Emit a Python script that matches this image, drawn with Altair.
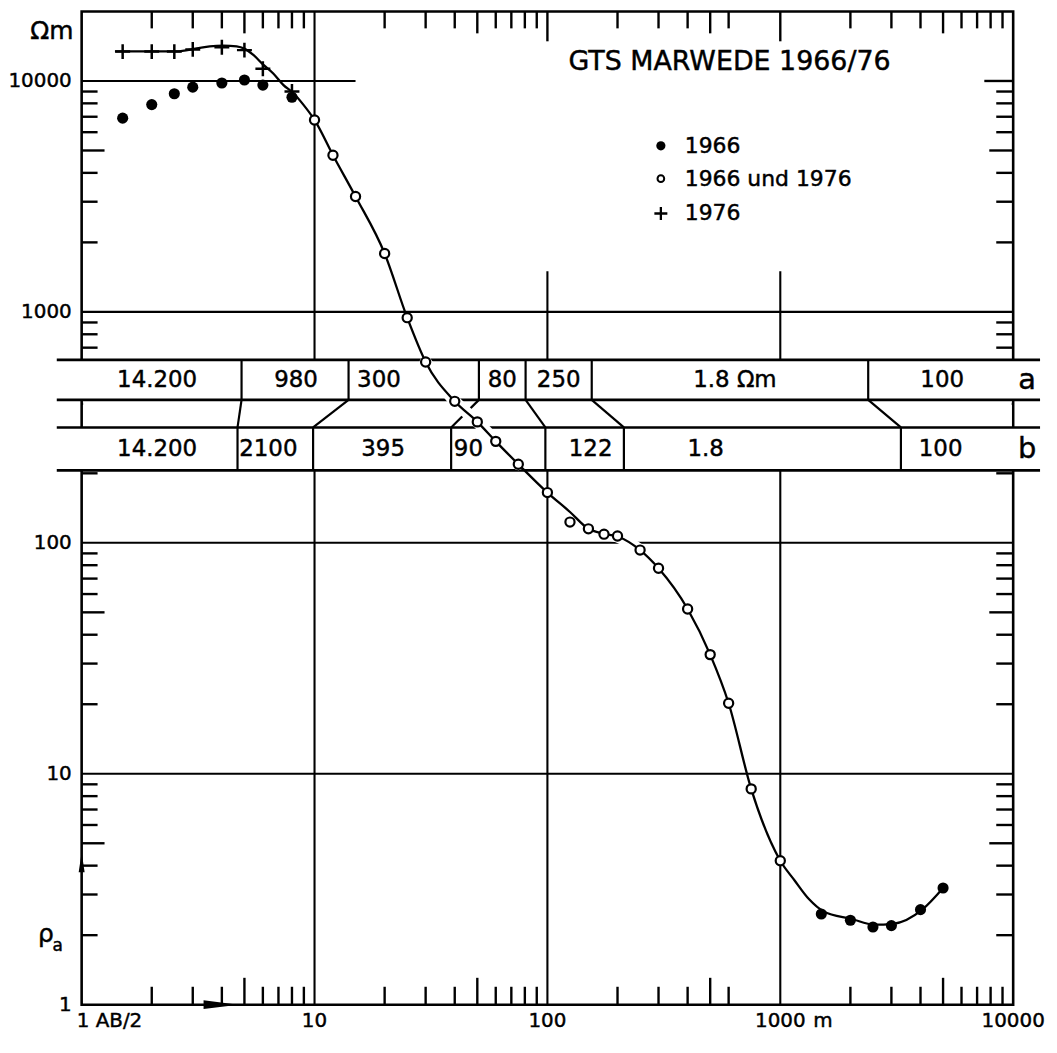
import math
import altair as alt
import pandas as pd

# ---------------- values ----------------
ab2_1966 = [1.5, 2, 2.5, 3, 4, 5, 6, 8, 1500, 2000, 2500, 3000, 4000, 5000]
rho_1966 = [6900, 7900, 8800, 9400, 9800, 10100, 9600, 8500, 2.47, 2.32, 2.17, 2.2, 2.58, 3.2]

ab2_1976 = [1.5, 2, 2.5, 3, 4, 5, 6, 8]
rho_1976 = [13400, 13400, 13400, 13700, 14000, 13600, 11300, 9000]

ab2_both = [10, 12, 15, 20, 25, 30, 40, 50, 60, 75, 100, 125, 150, 175, 200,
            250, 300, 400, 500, 600, 750, 1000]
rho_both = [6780, 4770, 3160, 1790, 944, 607, 410, 334, 275, 219, 165, 123, 115,
            109, 107, 93, 77.6, 51.7, 32.8, 20.2, 8.6, 4.2]

curve_ab2 = [1.39, 2.56, 3.12, 3.55, 4.06, 4.63, 5.02, 5.46, 6.02, 6.65, 7.34, 8.1,
             8.95, 10, 12, 15, 20, 25, 30, 40, 50, 60, 75, 100, 125, 150, 175, 200,
             250, 300, 400, 500, 600, 750, 1000, 1150, 1330, 1530, 2030, 2530, 3050,
             4070, 5000]
curve_rho = [13440, 13440, 13840, 14120, 14220, 14120, 13770, 12970, 11770, 10780,
             9620, 8870, 7900, 6780, 4770, 3160, 1790, 944, 607, 410, 334, 275, 219,
             165, 136, 115, 109.5, 106.5, 93, 77.6, 51.7, 32.8, 20.2, 8.6, 4.2, 3.46,
             2.86, 2.54, 2.35, 2.22, 2.24, 2.58, 3.2]

# layer models a and b: boundaries (AB/2 scale) and resistivities
model_a_bounds = [4.86, 14.0, 50.8, 80.6, 155, 2385]
model_a_rho = ["14.200", "980", "300", "80", "250", "1.8 \u03a9m", "100"]
model_b_bounds = [4.67, 9.86, 38.6, 98, 213, 3296]
model_b_rho = ["14.200", "2100", "395", "90", "122", "1.8", "100"]

x_labels = [10, 100, 1000, 10000]
y_labels = [1, 10, 100, 1000, 10000]

legend_labels = ["1966", "1966 und 1976", "1976"]
title_text = "GTS  MARWEDE  1966/76"

# ---------------- layout / style ----------------
W, H = 936, 998
FONT = "DejaVu Sans"
TXT_STROKE = 0.45
xs = alt.Scale(type="log", domain=[1, 10000], nice=False)
ys = alt.Scale(type="log", domain=[1, 20000], nice=False)
PX_PER_DEC = W / 4.0

BAND_A = (416, 620)   # band a extent on rho scale
BAND_B = (206, 316)
LEFT_EDGE, RIGHT_EDGE = -25, 963   # band extent in pixels (outside frame)


def XF(f):
    return alt.X(f, type="quantitative", scale=xs, axis=None)


def YF(f):
    return alt.Y(f, type="quantitative", scale=ys, axis=None)


layers = []

# --- grid lines
grid = pd.DataFrame({
    "x": [1, 1, 1, 1, 10, 100, 1000],
    "x2": [15, 10000, 10000, 10000, 10, 100, 1000],
    "y": [10000, 1000, 100, 10, 1, 1, 1],
    "y2": [10000, 1000, 100, 10, 20000, 1500, 1500],
})
layers.append(alt.Chart(grid).mark_rule(color="black", strokeWidth=2.1).encode(
    x=XF("x"), x2="x2", y=YF("y"), y2="y2"))

# --- inward ticks
mant = [2, 3, 4, 6, 7, 8, 9]
x_norm = [m * 10 ** k for k in range(4) for m in mant if not (k == 2 and m >= 7)]
x_five = [5 * 10 ** k for k in range(4)]
y_norm = [m * 10 ** k for k in range(4) for m in mant]
y_five = [5 * 10 ** k for k in range(4)]


def vticks(vals, y0, y1):
    return alt.Chart(pd.DataFrame({"v": vals})).mark_rule(
        color="black", strokeWidth=2.4).encode(
        x=XF("v"), y=alt.value(y0), y2=alt.value(y1))


def hticks(vals, x0, x1):
    return alt.Chart(pd.DataFrame({"v": vals})).mark_rule(
        color="black", strokeWidth=2.4).encode(
        y=YF("v"), x=alt.value(x0), x2=alt.value(x1))


layers += [
    vticks(x_norm, 0, 17), vticks(x_five, 0, 22), vticks([100, 1000], 0, 30),
    vticks(x_norm, H - 18, H), vticks(x_five, H - 27, H),
    hticks(y_norm, 0, 16), hticks(y_five, 0, 23),
    hticks(y_norm, W - 17, W), hticks(y_five, W - 24, W), hticks([10000], W - 29, W),
]

# --- model bands (white boxes)
bands = pd.DataFrame({"lo": [BAND_A[0], BAND_B[0]], "hi": [BAND_A[1], BAND_B[1]]})
layers.append(alt.Chart(bands).mark_rect(fill="white").encode(
    x=alt.value(LEFT_EDGE), x2=alt.value(RIGHT_EDGE), y=YF("hi"), y2="lo"))
gap = pd.DataFrame({"lo": [BAND_B[1]], "hi": [BAND_A[0]]})
layers.append(alt.Chart(gap).mark_rect(fill="white").encode(
    x=alt.value(1.5), x2=alt.value(W - 1.5), y=YF("hi"), y2="lo"))

band_lines = pd.DataFrame({"y": [BAND_A[0], BAND_A[1], BAND_B[0], BAND_B[1]]})
layers.append(alt.Chart(band_lines).mark_rule(color="black", strokeWidth=2.6).encode(
    y=YF("y"), x=alt.value(LEFT_EDGE), x2=alt.value(RIGHT_EDGE)))

dividers = pd.DataFrame({
    "x": model_a_bounds + model_b_bounds,
    "lo": [BAND_A[0]] * len(model_a_bounds) + [BAND_B[0]] * len(model_b_bounds),
    "hi": [BAND_A[1]] * len(model_a_bounds) + [BAND_B[1]] * len(model_b_bounds),
})
layers.append(alt.Chart(dividers).mark_rule(color="black", strokeWidth=2.2).encode(
    x=XF("x"), y=YF("lo"), y2="hi"))

connectors = pd.DataFrame({"xa": model_a_bounds, "xb": model_b_bounds,
                           "ya": [BAND_A[0]] * 6, "yb": [BAND_B[1]] * 6})
layers.append(alt.Chart(connectors).mark_rule(color="black", strokeWidth=2.2).encode(
    x=XF("xa"), x2="xb", y=YF("ya"), y2="yb"))

# --- curve with white halo where it cuts the bands / grid
curve_df = pd.DataFrame({"x": curve_ab2, "y": curve_rho})
halo_df = pd.concat([
    curve_df[(curve_df.x >= 30) & (curve_df.x <= 75)].assign(seg="a"),
    curve_df[(curve_df.x >= 150) & (curve_df.x <= 250)].assign(seg="b"),
])
layers.append(alt.Chart(halo_df).mark_line(
    color="white", strokeWidth=12, interpolate="monotone", strokeCap="round").encode(
    x=XF("x"), y=YF("y"), detail="seg:N"))
layers.append(alt.Chart(curve_df).mark_line(
    color="black", strokeWidth=2.3, interpolate="monotone").encode(
    x=XF("x"), y=YF("y")))

# --- measured points
d66 = pd.DataFrame({"x": ab2_1966, "y": rho_1966})
d76 = pd.DataFrame({"x": ab2_1976, "y": rho_1976})
dboth = pd.DataFrame({"x": ab2_both, "y": rho_both})
PLUS = "M-1,0L1,0M0,-1L0,1"
layers.append(alt.Chart(d76).mark_point(shape=PLUS, filled=False, color="black",
                                        strokeWidth=2.5, size=225, opacity=1).encode(
    x=XF("x"), y=YF("y")))
layers.append(alt.Chart(d66).mark_circle(color="black", size=125, opacity=1).encode(
    x=XF("x"), y=YF("y")))
layers.append(alt.Chart(dboth).mark_point(shape="circle", filled=True, fill="white",
                                          stroke="black", strokeWidth=2.2, size=85,
                                          opacity=1).encode(x=XF("x"), y=YF("y")))


# --- band labels
def cell_labels(bounds, labels, nudges, yval):
    edges_px = [LEFT_EDGE] + [PX_PER_DEC * math.log10(b) for b in bounds] + [RIGHT_EDGE]
    xs_ = []
    for i in range(len(labels)):
        mid = (edges_px[i] + edges_px[i + 1]) / 2 + nudges[i]
        xs_.append(10 ** (mid / PX_PER_DEC))
    return pd.DataFrame({"x": xs_, "y": [yval] * len(labels), "t": labels})


lab_a = cell_labels(model_a_bounds, model_a_rho, [8, 1, -35, 0, 0, 5, -12], 508)
lab_b = cell_labels(model_b_bounds, model_b_rho, [10, -7, 1, -30, 6, -57, -30], 255)
layers.append(alt.Chart(pd.concat([lab_a, lab_b])).mark_text(
    font=FONT, fontSize=23, color="black", align="center", baseline="middle",
    stroke="black", strokeWidth=TXT_STROKE).encode(
    x=XF("x"), y=YF("y"), text="t:N"))
layers.append(alt.Chart(pd.DataFrame({"y": [508, 255], "t": ["a", "b"]})).mark_text(
    font=FONT, fontSize=29, color="black", align="center", baseline="middle",
    stroke="black", strokeWidth=TXT_STROKE).encode(
    x=alt.value(950), y=YF("y"), text="t:N"))

# --- axis tick labels (placed through the scales)
layers.append(alt.Chart(pd.DataFrame({"v": y_labels, "t": [str(v) for v in y_labels]})).mark_text(
    font=FONT, fontSize=20, color="black", align="right", baseline="middle", dx=-10,
    stroke="black", strokeWidth=TXT_STROKE).encode(
    y=YF("v"), x=alt.value(0), text="t:N"))
layers.append(alt.Chart(pd.DataFrame({"v": x_labels, "t": [str(v) for v in x_labels]})).mark_text(
    font=FONT, fontSize=20, color="black", align="center", baseline="middle",
    stroke="black", strokeWidth=TXT_STROKE).encode(
    x=XF("v"), y=alt.value(H + 16), text="t:N"))


# --- title and legend
def txt(t, x, y, size=22, align="left", **kw):
    return alt.Chart(pd.DataFrame({"t": [t]})).mark_text(
        font=FONT, fontSize=size, color="black", align=align, baseline="middle",
        stroke="black", strokeWidth=TXT_STROKE, **kw).encode(
        x=alt.value(x), y=alt.value(y), text="t:N")


layers.append(txt(title_text, 651, 51, size=27, align="center"))
layers.append(txt(legend_labels[0], 606, 135))
layers.append(txt(legend_labels[1], 606, 168))
layers.append(txt(legend_labels[2], 606, 203))
one = pd.DataFrame({"k": [0]})
layers.append(alt.Chart(one).mark_circle(color="black", size=85, opacity=1).encode(
    x=alt.value(582), y=alt.value(135)))
layers.append(alt.Chart(one).mark_point(shape="circle", filled=True, fill="white",
                                        stroke="black", strokeWidth=2, size=45,
                                        opacity=1).encode(x=alt.value(582), y=alt.value(168)))
layers.append(alt.Chart(one).mark_point(shape=PLUS, filled=False, color="black",
                                        strokeWidth=2.3, size=170, opacity=1).encode(
    x=alt.value(582), y=alt.value(203)))

# --- axis annotations
layers.append(txt("\u03a9m", -30, 20, size=25, align="center"))
layers.append(txt("\u03c1", -36, 927, size=25, align="center"))
layers.append(txt("a", -24, 939, size=17, align="center"))
layers.append(txt("1 AB/2", -5, H + 16, size=20, align="left"))
layers.append(txt("m", 735, H + 16, size=20, align="left"))

# arrows on the axes
layers.append(alt.Chart(one).mark_point(shape="M0,-1L0.3,1L-0.3,1Z", filled=True,
                                        color="black", size=400, opacity=1).encode(
    x=alt.value(0), y=alt.value(855)))
layers.append(alt.Chart(one).mark_point(shape="M1,0L-1,0.25L-1,-0.25Z", filled=True,
                                        color="black", size=1225, opacity=1).encode(
    x=alt.value(140), y=alt.value(H)))

chart = alt.layer(*layers).properties(
    width=W, height=H,
    padding={"left": 74, "top": 1, "right": 36, "bottom": 29},
    autosize=alt.AutoSizeParams(type="none"),
    background="white",
).configure_view(stroke="black", strokeWidth=2.6)

chart.save("out.html", embed_options={"renderer": "svg", "actions": False})
